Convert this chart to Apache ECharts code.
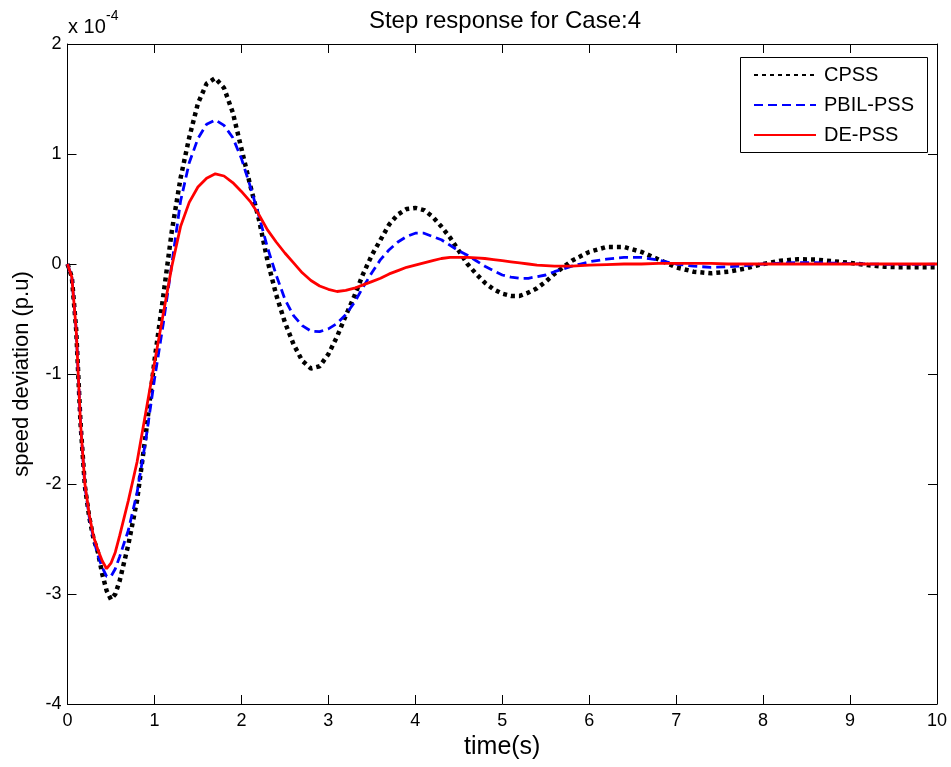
<!DOCTYPE html>
<html>
<head>
<meta charset="utf-8">
<title>Step response for Case:4</title>
<script src="https://cdn.jsdelivr.net/npm/echarts@6/dist/echarts.min.js"></script>
<style>
  html, body { margin: 0; padding: 0; background: #fff; }
  #chart { width: 951px; height: 767px; }
</style>
</head>
<body>
<div id="chart"></div>
<script>
// Speed deviation (in units of 1e-4 p.u.) after a step disturbance, three stabilizer designs.
const timeSec = [
  0, 0.05, 0.1, 0.15, 0.2, 0.25, 0.3, 0.35, 0.4, 0.45, 0.5, 0.55, 0.6,
  0.7, 0.8, 0.9, 1.0, 1.1, 1.2, 1.3, 1.4, 1.5, 1.6, 1.7, 1.8, 1.9, 2.0,
  2.1, 2.2, 2.3, 2.4, 2.5, 2.6, 2.7, 2.8, 2.9, 3.0, 3.1, 3.2, 3.3, 3.4,
  3.5, 3.6, 3.7, 3.8, 3.9, 4.0, 4.1, 4.2, 4.3, 4.4, 4.5, 4.6, 4.7, 4.8,
  4.9, 5.0, 5.1, 5.2, 5.3, 5.4, 5.5, 5.6, 5.7, 5.8, 5.9, 6.0,
  6.2, 6.4, 6.6, 6.8, 7.0, 7.2, 7.4, 7.6, 7.8, 8.0, 8.2, 8.4, 8.6, 8.8,
  9.0, 9.2, 9.4, 9.6, 9.8, 10
];

const cpss = [
  0, -0.12, -0.6, -1.45, -2.02, -2.3, -2.5, -2.62, -2.82, -2.97, -3.05, -3.0, -2.88,
  -2.55, -2.15, -1.55, -0.88, -0.3, 0.3, 0.78, 1.15, 1.46, 1.64, 1.69, 1.6, 1.38, 1.05,
  0.72, 0.41, 0.03, -0.28, -0.53, -0.73, -0.88, -0.95, -0.93, -0.82, -0.66, -0.47, -0.29, -0.09,
  0.08, 0.22, 0.36, 0.45, 0.5, 0.51, 0.49, 0.43, 0.34, 0.24, 0.12, 0.0, -0.09, -0.17,
  -0.23, -0.27, -0.29, -0.29, -0.26, -0.22, -0.16, -0.09, -0.03, 0.03, 0.07, 0.11,
  0.155, 0.155, 0.11, 0.04, -0.03, -0.07, -0.085, -0.07, -0.04, 0.0, 0.03, 0.043, 0.04, 0.025,
  0.01, -0.01, -0.025, -0.03, -0.03, -0.03
];

const pbilPss = [
  0, -0.12, -0.6, -1.45, -2.02, -2.3, -2.5, -2.65, -2.76, -2.84, -2.84, -2.77, -2.66,
  -2.42, -2.08, -1.6, -1.05, -0.55, 0.0, 0.57, 0.92, 1.14, 1.27, 1.31, 1.26, 1.15, 0.96,
  0.71, 0.44, 0.15, -0.1, -0.32, -0.47, -0.56, -0.61, -0.615, -0.59, -0.54, -0.46, -0.35, -0.21,
  -0.08, 0.04, 0.13, 0.2, 0.25, 0.28, 0.28, 0.25, 0.22, 0.17, 0.12, 0.08, 0.03, -0.02,
  -0.06, -0.1, -0.12, -0.13, -0.13, -0.115, -0.1, -0.07, -0.045, -0.02, 0.0, 0.02,
  0.045, 0.06, 0.06, 0.035, 0.0, -0.02, -0.03, -0.025, -0.015, 0.0, 0.008, 0.012, 0.012, 0.008,
  0.003, 0.0, -0.003, -0.004, -0.003, -0.002
];

const dePss = [
  0, -0.12, -0.6, -1.45, -2.0, -2.28, -2.48, -2.6, -2.7, -2.77, -2.72, -2.62, -2.47,
  -2.15, -1.8, -1.35, -0.9, -0.46, -0.02, 0.34, 0.56, 0.7, 0.78, 0.82, 0.8, 0.74, 0.66,
  0.57, 0.45, 0.31, 0.2, 0.1, 0.01, -0.08, -0.15, -0.2, -0.23, -0.25, -0.24, -0.22, -0.19,
  -0.16, -0.13, -0.09, -0.06, -0.03, -0.01, 0.01, 0.03, 0.05, 0.06, 0.06, 0.06, 0.055, 0.05,
  0.04, 0.03, 0.02, 0.01, 0.0, -0.01, -0.015, -0.02, -0.02, -0.02, -0.015, -0.01,
  -0.005, 0.0, 0.0, 0.005, 0.005, 0.005, 0.005, 0.0, 0.0, 0.0, 0.0, 0.0, 0.0, 0.0,
  0.0, 0.0, 0.0, 0.0, 0.0, 0.0
];

const seriesNames = ['CPSS', 'PBIL-PSS', 'DE-PSS'];
const xTicks = [0, 1, 2, 3, 4, 5, 6, 7, 8, 9, 10];
const yTicks = [-4, -3, -2, -1, 0, 1, 2];

const FONT = '"Liberation Sans", Arial, Helvetica, sans-serif';

function pairs(values) {
  return timeSec.map((t, i) => [t, values[i]]);
}

const chart = echarts.init(document.getElementById('chart'), null, { renderer: 'canvas' });

const frameAxis = {
  type: 'value',
  axisLine: { show: true, onZero: false, lineStyle: { color: '#000', width: 1 } },
  axisTick: { show: true, inside: true, length: 9, lineStyle: { color: '#000', width: 1 } },
  splitLine: { show: false }
};

chart.setOption({
  animation: false,
  backgroundColor: '#fff',
  title: {
    text: 'Step response for Case:4',
    left: 500,
    textAlign: 'center',
    top: 4,
    textStyle: { fontFamily: FONT, fontSize: 24, fontWeight: 'normal', color: '#000' }
  },
  grid: { left: 67.5, right: 14, top: 44, bottom: 63, containLabel: false },
  legend: {
    data: seriesNames,
    orient: 'vertical',
    left: 753,
    top: 65,
    padding: 0,
    itemWidth: 62,
    itemHeight: 14,
    itemGap: 10,
    itemStyle: { opacity: 0 },
    textStyle: { fontFamily: FONT, fontSize: 20, color: '#000', padding: [0, 0, 0, 3] },
    z: 10
  },
  xAxis: [
    Object.assign({}, frameAxis, {
      position: 'bottom',
      min: xTicks[0], max: xTicks[xTicks.length - 1], interval: 1,
      name: 'time(s)',
      nameLocation: 'middle',
      nameGap: 28,
      nameTextStyle: { fontFamily: FONT, fontSize: 25, color: '#000' },
      axisLabel: { show: true, margin: 8, color: '#000', fontFamily: FONT, fontSize: 18 }
    }),
    Object.assign({}, frameAxis, {
      position: 'top',
      min: xTicks[0], max: xTicks[xTicks.length - 1], interval: 1,
      axisLabel: { show: false }
    })
  ],
  yAxis: [
    Object.assign({}, frameAxis, {
      position: 'left',
      min: yTicks[0], max: yTicks[yTicks.length - 1], interval: 1,
      name: 'speed deviation (p.u)',
      nameLocation: 'middle',
      nameGap: 35,
      nameTextStyle: { fontFamily: FONT, fontSize: 22, color: '#000' },
      axisLabel: { show: true, margin: 6, color: '#000', fontFamily: FONT, fontSize: 18 }
    }),
    Object.assign({}, frameAxis, {
      position: 'right',
      min: yTicks[0], max: yTicks[yTicks.length - 1], interval: 1,
      axisLabel: { show: false }
    })
  ],
  graphic: [
    {
      type: 'rect',
      left: 740,
      top: 57,
      z: 5,
      shape: { width: 187, height: 95 },
      style: { fill: '#fff', stroke: '#000', lineWidth: 1 }
    },
    {
      type: 'text',
      left: 68,
      top: 17,
      style: { text: 'x 10', fontFamily: FONT, fontSize: 20, fill: '#000' }
    },
    {
      type: 'text',
      left: 106,
      top: 9,
      style: { text: '-4', fontFamily: FONT, fontSize: 14, fill: '#000' }
    }
  ],
  series: [
    {
      name: seriesNames[0],
      type: 'line',
      data: pairs(cpss),
      symbol: 'none',
      color: '#000000',
      lineStyle: { color: '#000000', width: 4.5, type: [4, 4], cap: 'butt' },
      z: 2
    },
    {
      name: seriesNames[1],
      type: 'line',
      data: pairs(pbilPss),
      symbol: 'none',
      color: '#0000ff',
      lineStyle: { color: '#0000ff', width: 2.8, type: [9, 5] },
      z: 3
    },
    {
      name: seriesNames[2],
      type: 'line',
      data: pairs(dePss),
      symbol: 'none',
      color: '#ff0000',
      lineStyle: { color: '#ff0000', width: 2.8, type: 'solid' },
      z: 4
    }
  ]
});
</script>
</body>
</html>
